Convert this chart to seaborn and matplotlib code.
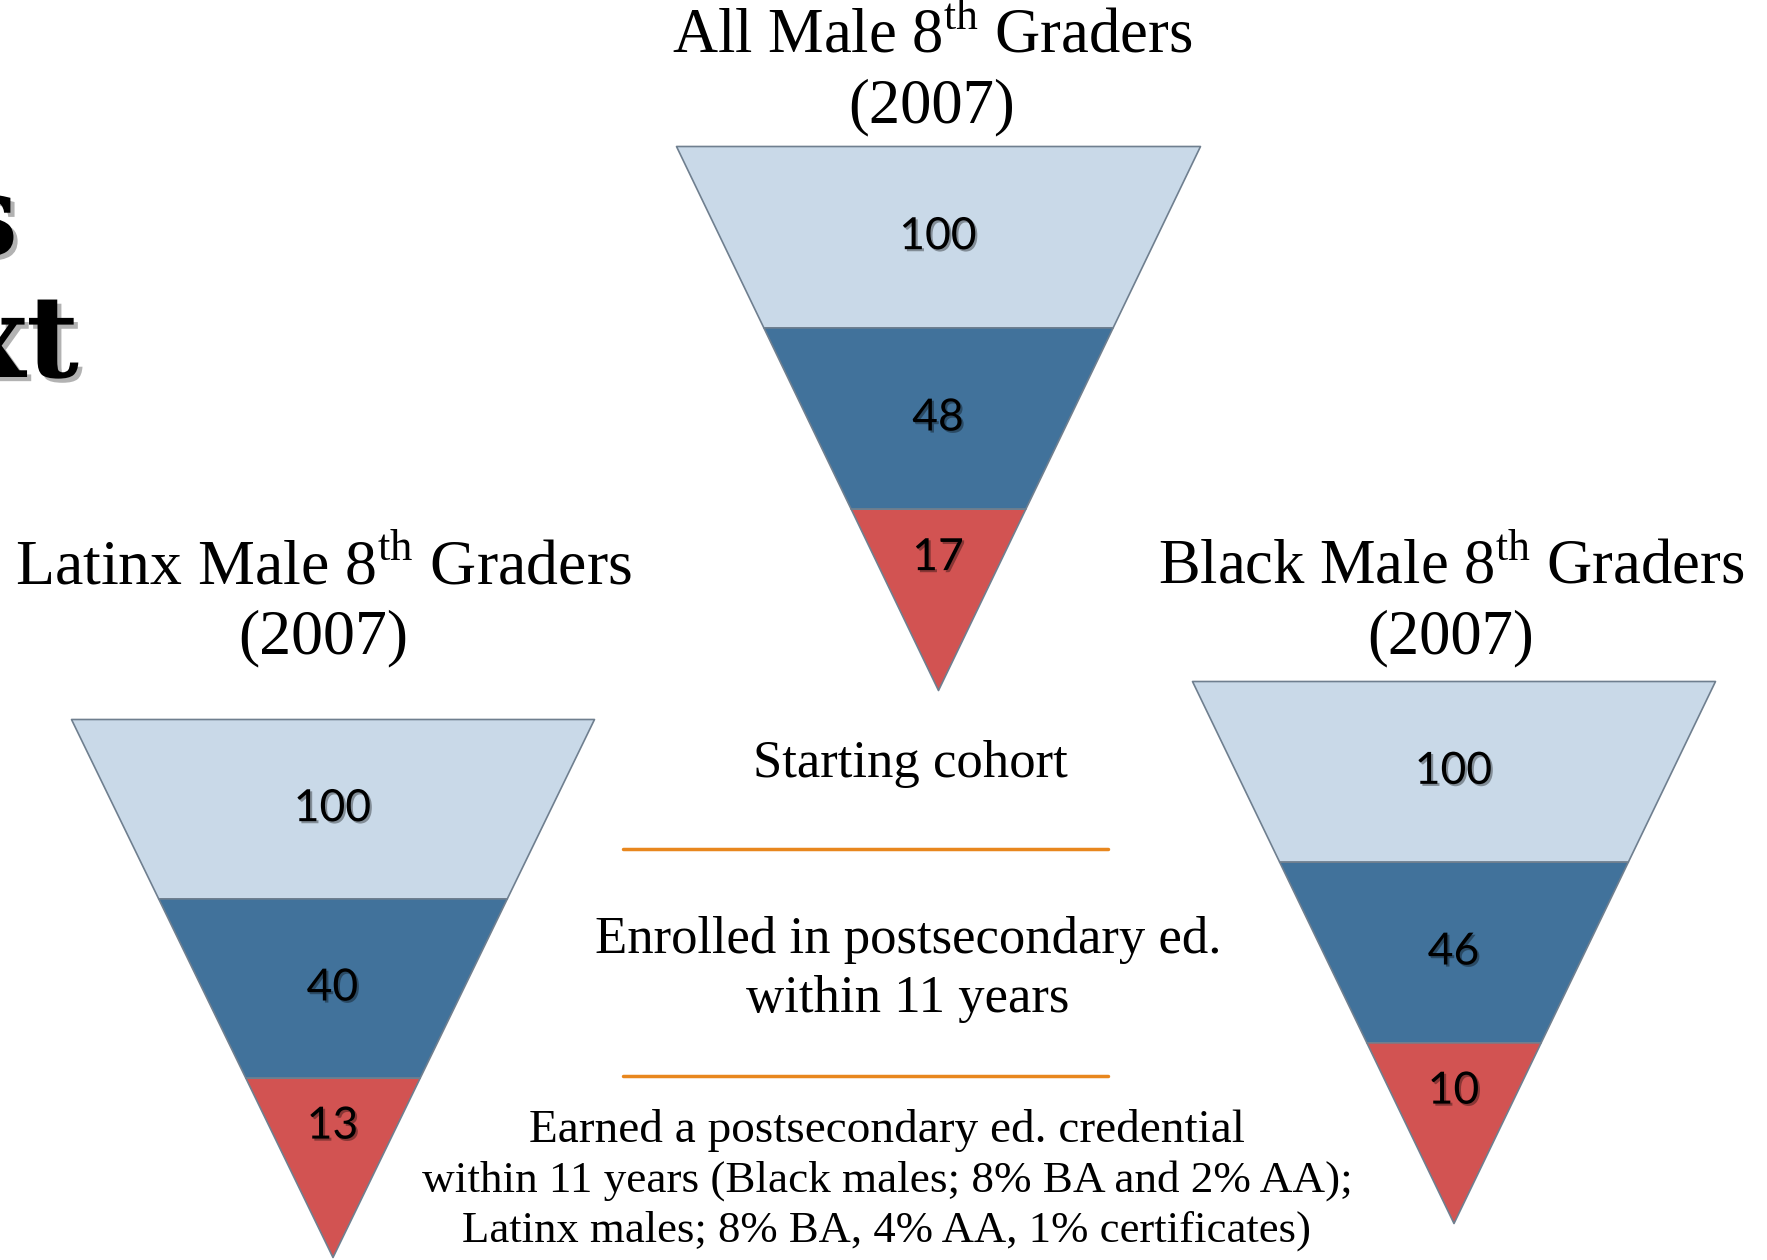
import matplotlib
matplotlib.use("Agg")
import matplotlib.pyplot as plt
import matplotlib.patheffects as pe
import seaborn as sns
import pandas as pd

# ---------------- data ----------------
stages = ["Starting cohort", "Enrolled", "Credential"]
all_values = [100, 48, 17]
latinx_values = [100, 40, 13]
black_values = [100, 46, 10]
funnel_titles = ["All Male 8$^{\\mathrm{th}}$ Graders",
                 "Latinx Male 8$^{\\mathrm{th}}$ Graders",
                 "Black Male 8$^{\\mathrm{th}}$ Graders"]
year_label = "(2007)"
legend_start = "Starting cohort"
legend_enrolled = ["Enrolled in postsecondary ed.", "within 11 years"]
legend_credential = ["Earned a postsecondary ed. credential",
                     "within 11 years (Black males; 8% BA and 2% AA);",
                     "Latinx males; 8% BA, 4% AA, 1% certificates)"]
stage_colors = ["#C9D9E8", "#41729B", "#D25352"]

sns.set_theme(style="white")
plt.rcParams["font.family"] = ["Liberation Serif", "DejaVu Serif"]
plt.rcParams["mathtext.fontset"] = "custom"
plt.rcParams["mathtext.rm"] = "Liberation Serif"
plt.rcParams["text.color"] = "black"

W, H = 1767, 1260
fig = plt.figure(figsize=(W / 100, H / 100), dpi=100)
fig.patch.set_facecolor("white")


def fx(x):
    return x / W


def fy(y):
    return 1 - y / H


def funnel(box, values):
    x0, y0, x1, y1 = box
    ax = fig.add_axes([fx(x0), fy(y1), fx(x1) - fx(x0), fy(y0) - fy(y1)])
    df = pd.DataFrame({"stage": stages, "value": values})
    n = len(df)
    for i, row in df.iterrows():
        wt = (n - i) / n
        wb = (n - i - 1) / n
        ax.fill_betweenx([i, i + 1], [-wt, -wb], [wt, wb],
                         facecolor=stage_colors[i], edgecolor="#6f7f8f",
                         linewidth=1.2, clip_on=False)
        ylab = i + 0.5 if i < n - 1 else i + 0.27
        ax.text(0, ylab, f"{row['value']}", ha="center", va="center",
                fontsize=32, family="Lato", color="black",
                path_effects=[pe.withSimplePatchShadow(offset=(1.5, -1.5),
                                                       shadow_rgbFace="black",
                                                       alpha=0.35)])
    ax.set_xlim(-1, 1)
    ax.set_ylim(n, 0)
    ax.axis("off")
    return ax


funnel((676, 146, 1200, 690), all_values)
funnel((71, 719, 594, 1257), latinx_values)
funnel((1192, 681, 1715, 1223), black_values)

# titles
title_pos = [(932, 37, 107), (323, 568, 638), (1451, 568, 638)]
title_sizes = [45, 46, 45]
for t, (cx, y1, y2), fs in zip(funnel_titles, title_pos, title_sizes):
    fig.text(fx(cx), fy(y1), t, ha="center", va="center", fontsize=fs)
    fig.text(fx(cx), fy(y2), year_label, ha="center", va="center", fontsize=fs)

# middle legend texts
fig.text(fx(910), fy(764), legend_start, ha="center", va="center", fontsize=38)
for s, y in zip(legend_enrolled, [940, 999]):
    fig.text(fx(908), fy(y), s, ha="center", va="center", fontsize=38)
for s, y, fs in zip(legend_credential, [1130, 1181, 1231], [34, 32.5, 32.2]):
    fig.text(fx(887), fy(y), s, ha="center", va="center", fontsize=fs)

# orange separators
for y in [849, 1076]:
    fig.add_artist(plt.Line2D([fx(623), fx(1108)], [fy(y), fy(y)],
                              color="#E8871E", linewidth=2.5))

# partially visible heading on the left edge
shadow = [pe.withSimplePatchShadow(offset=(3, -3), shadow_rgbFace="black", alpha=0.3)]
fig.text(fx(18), fy(255), "s", ha="right", va="baseline", fontsize=82,
         family="DejaVu Serif", weight="bold", color="black", path_effects=shadow)
fig.text(fx(79), fy(377), "xt", ha="right", va="baseline", fontsize=82,
         family="DejaVu Serif", weight="bold", color="black", path_effects=shadow)

fig.savefig("out.png", dpi=100, facecolor="white")
